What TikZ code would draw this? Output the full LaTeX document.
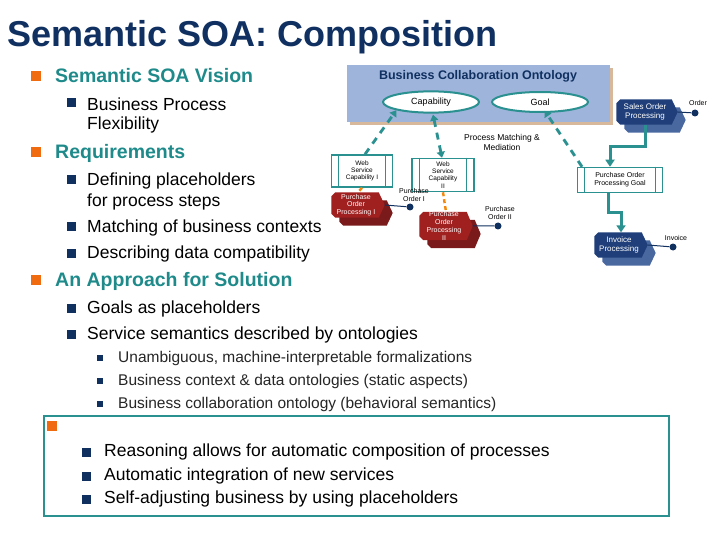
\documentclass[tikz,border=0pt]{standalone}
\usepackage{fontspec}
\setmainfont{Liberation Sans}
\usetikzlibrary{arrows.meta,calc,shapes.geometric}
\definecolor{ttl}{HTML}{0F3060}
\definecolor{teal1}{HTML}{1E8A8A}
\definecolor{tealln}{HTML}{2A9090}
\definecolor{orng}{HTML}{F06A10}
\definecolor{navy}{HTML}{103060}
\definecolor{onto}{HTML}{9FB4DA}
\definecolor{tan}{HTML}{D8B89A}
\definecolor{pblue}{HTML}{203F7A}
\definecolor{pblues}{HTML}{4A68A0}
\definecolor{pred}{HTML}{A02020}
\definecolor{preds}{HTML}{7A1A1A}
\tikzset{
 x=1pt,y=-1pt,
 t1/.style={anchor=west,font=\fontsize{19.5}{20}\selectfont\bfseries,text=teal1,inner sep=0},
 t2/.style={anchor=west,font=\fontsize{17.5}{20}\selectfont,text=black,inner sep=0},
 t3/.style={anchor=west,font=\fontsize{15.5}{17}\selectfont,text=black!85,inner sep=0},
 b1/.style={fill=orng,minimum size=10pt,inner sep=0},
 b2/.style={fill=navy,minimum size=9pt,inner sep=0},
 b3/.style={fill=navy,minimum size=6.5pt,inner sep=0},
 tiny/.style={font=\fontsize{7}{8}\selectfont,align=center,inner sep=0},
 proc/.style={minimum width=#1,minimum height=25pt,inner sep=0,text=white,font=\fontsize{7}{7.8}\selectfont,align=center},
 ell/.style={ellipse,draw=tealln,line width=2pt,fill=white,minimum width=96pt,minimum height=20pt,font=\fontsize{9}{10}\selectfont},
 wsc/.style={draw=tealln,line width=1.5pt,fill=white,inner sep=0,font=\fontsize{6.5}{7.2}\selectfont,align=center},
 dsh/.style={draw=tealln,line width=2.8pt,dash pattern=on 7pt off 6pt},
 odsh/.style={draw=orng!80!yellow,line width=2.4pt,dash pattern=on 4pt off 3pt},
 sld/.style={draw=tealln,line width=3pt,-{Triangle[length=7pt,width=9pt]}},
 dot/.style={circle,fill=navy,minimum size=7pt,inner sep=0},
 tip/.tip={Triangle[length=6pt,width=8pt]},
}
\newcommand\chev[3]{%
 \fill[#3] ($(#1.north west)+(12,8)$) -- ($(#1.north east)+(2,8)$) -- ($(#1.east)+(8,8)$) -- ($(#1.south east)+(2,8)$) -- ($(#1.south west)+(12,8)$) -- ($(#1.south west)+(8,4)$) -- ($(#1.north west)+(8,12)$) -- cycle;
 \fill[#2] ($(#1.north west)+(4,0)$) -- ($(#1.north east)+(-6,0)$) -- (#1.east) -- ($(#1.south east)+(-6,0)$) -- ($(#1.south west)+(4,0)$) -- ($(#1.south west)+(0,-4)$) -- ($(#1.north west)+(0,4)$) -- cycle;}
\newcommand\wsbars[1]{\draw[tealln,line width=1.2pt] ($(#1.north west)+(8,0)$) -- ($(#1.south west)+(8,0)$) ($(#1.north east)+(-8,0)$) -- ($(#1.south east)+(-8,0)$);}
\begin{document}
\begin{tikzpicture}
\useasboundingbox[fill=white] (0,0) rectangle (720,540);
\node[anchor=west,inner sep=0,font=\fontsize{36}{38}\selectfont\bfseries,text=ttl] (title) at (7,37) {Semantic SOA: Composition};
% left text
\node[b1] (ba) at (36,76) {}; \node[t1] (ta) at (55,76) {Semantic SOA Vision};
\node[b2] (bb) at (71,103) {}; \node[t2] (tb) at (87,104) {Business Process};
\node[t2] (tb2) at (87,125) {Flexibility};
\node[b1] (bc) at (36,152) {}; \node[t1] (tc) at (55,153) {Requirements};
\node[b2] (bd) at (71,180) {}; \node[t2] (td) at (87,181) {Defining placeholders};
\node[t2] (td2) at (87,202) {for process steps};
\node[b2] (be) at (71,227) {}; \node[t2] (te) at (87,228) {Matching of business contexts};
\node[b2] (bf) at (71,253) {}; \node[t2] (tf) at (87,254) {Describing data compatibility};
\node[b1] (bg) at (36,280) {}; \node[t1] (tg) at (55,281) {An Approach for Solution};
\node[b2] (bh) at (71,308) {}; \node[t2] (th) at (87,309) {Goals as placeholders};
\node[b2] (bi) at (71,334) {}; \node[t2] (ti) at (87,335) {Service semantics described by ontologies};
\node[b3] (bj) at (100,358) {}; \node[t3] (tj) at (118,358) {Unambiguous, machine-interpretable formalizations};
\node[b3] (bk) at (100,381) {}; \node[t3] (tk) at (118,381) {Business context \& data ontologies (static aspects)};
\node[b3] (bl) at (100,404) {}; \node[t3] (tl) at (118,404) {Business collaboration ontology (behavioral semantics)};
% bottom box
\draw[tealln,line width=1.3pt] (44,416) rectangle (669,516);
\node[b1] (bm) at (52,426) {};
\node[b2] (bn) at (86,452) {}; \node[t2] (tn) at (104,452) {Reasoning allows for automatic composition of processes};
\node[b2] (bo) at (86,476) {}; \node[t2] (to) at (104,476) {Automatic integration of new services};
\node[b2] (bp) at (86,499) {}; \node[t2] (tp) at (104,499) {Self-adjusting business by using placeholders};
% ontology
\fill[tan] (350,68) rectangle (613,125);
\fill[onto] (347,65) rectangle (610,122);
\node[font=\fontsize{12.5}{13}\selectfont\bfseries,text=ttl] (ot) at (478,76) {Business Collaboration Ontology};
\node[ell] (cap) at (431,102) {Capability};
\node[ell] (goal) at (540,102) {Goal};
\node[tiny,font=\fontsize{8.5}{10}\selectfont] (pm) at (502,142) {Process Matching \&\\Mediation};
% web service capabilities
\node[wsc,minimum width=61pt,minimum height=32pt] (w1) at (362,171) {Web\\Service\\Capability I};\wsbars{w1}
\node[wsc,minimum width=62pt,minimum height=33pt] (w2) at (443,175) {Web\\Service\\Capability\\II};\wsbars{w2}
\node[wsc,minimum width=85pt,minimum height=25pt,font=\fontsize{7}{8}\selectfont] (pg) at (620,180) {Purchase Order\\Processing Goal};\wsbars{pg}
% processes
\node[proc=53pt] (p1) at (358,205) {};\chev{p1}{pred}{preds}\node[proc=53pt] at (356,205) {Purchase\\Order\\Processing I};
\node[proc=53pt,minimum height=28pt] (p2) at (446,226) {};\chev{p2}{pred}{preds}\node[proc=53pt] at (444,226) {Purchase\\Order\\Processing\\II};
\node[proc=61pt] (so) at (647,112) {};\chev{so}{pblue}{pblues}\node[proc=61pt,font=\fontsize{8}{9}\selectfont] at (645,112) {Sales Order\\Processing};
\node[proc=53pt] (ip) at (621,245) {};\chev{ip}{pblue}{pblues}\node[proc=53pt,font=\fontsize{8}{9}\selectfont] at (619,245) {Invoice\\Processing};
% data dots
\node[dot] (d1) at (410,207) {}; \node[tiny] (l1) at (414,195) {Purchase\\Order I};
\node[dot] (d2) at (498,226) {}; \node[tiny] (l2) at (500,213) {Purchase\\Order II};
\node[dot] (d3) at (695,113) {}; \node[tiny] (l3) at (698,103) {Order};
\node[dot] (d4) at (673,247) {}; \node[tiny] (l4) at (676,238) {Invoice};
\draw[navy,line width=1pt] (p1.east) -- (d1) (p2.east) -- (d2) (so.east) -- (d3) (ip.east) -- (d4);
% connectors
\draw[dsh,-tip] ([xshift=3pt]w1.north) -- (cap.south west);
\draw[dsh,tip-tip] ([xshift=-1pt]w2.north) -- ([xshift=2pt,yshift=-1pt]cap.south);
\draw[dsh,-tip] ([xshift=-38pt]pg.north) -- ([xshift=-30pt,yshift=-1pt]goal.south east);
\draw[odsh] (w1.south) -- (p1.north);
\draw[odsh] (w2.south) -- (p2.north);
\draw[sld] ([xshift=-2pt]so.south) |- ([xshift=-10pt,yshift=20pt]pg.north) -- ([xshift=-10pt]pg.north);
\draw[sld] ([xshift=-12pt]pg.south) |- ([yshift=20pt]ip.north) -- (ip.north);
\end{tikzpicture}
\end{document}
